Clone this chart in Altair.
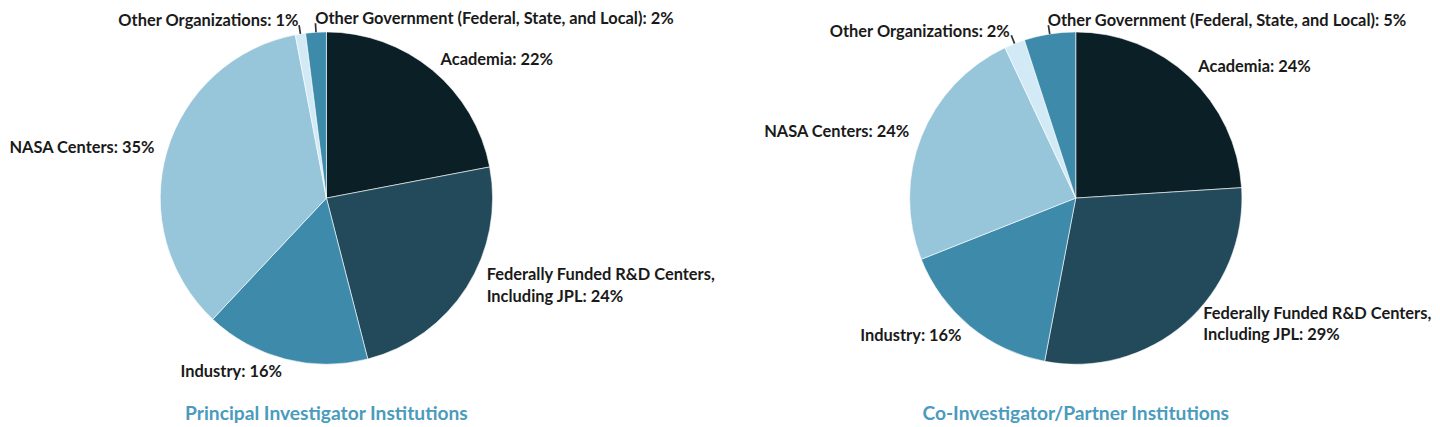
import altair as alt
import pandas as pd

categories = [
    "Academia",
    "Federally Funded R&D Centers, Including JPL",
    "Industry",
    "NASA Centers",
    "Other Organizations",
    "Other Government (Federal, State, and Local)",
]
label_names = [
    "Academia",
    "Federally Funded R&D Centers,\nIncluding JPL",
    "Industry",
    "NASA Centers",
    "Other Organizations",
    "Other Government (Federal, State, and Local)",
]
pi_values = [22, 24, 16, 35, 1, 2]
coi_values = [24, 29, 16, 24, 2, 5]
titles = ["Principal Investigator Institutions", "Co-Investigator/Partner Institutions"]
colors = ["#0b1f27", "#224a5b", "#3d8aab", "#97c6db", "#d2eaf5", "#3d8aab"]
leader_cats = ["Other Organizations", "Other Government (Federal, State, and Local)"]
right_aligned_cats = ["Industry", "NASA Centers", "Other Organizations"]

FONT = "Lato"
LINE_H = 22


def make_df(values):
    total = sum(values)
    rows = []
    cum = 0
    for c, n, v in zip(categories, label_names, values):
        start = cum / total * 100
        cum += v
        end = cum / total * 100
        mid = (start + end) / 2
        rows.append(dict(
            category=c, label=f"{n}: {v}%", value=v,
            start=start, end=end, mid=mid,
            t0=mid - 0.08, t1=mid + 0.08,
            side="right" if c in right_aligned_cats else "left",
            multi="\n" in n,
            leader=c in leader_cats,
        ))
    return pd.DataFrame(rows)


theta_scale = alt.Scale(domain=[0, 100], range=[0, 6.283185307179586])
color_scale = alt.Scale(domain=categories, range=colors)


def pie(values, title):
    df = make_df(values)
    base = alt.Chart(df)
    arcs = base.mark_arc(outerRadius=167, stroke="white", strokeWidth=0.6).encode(
        theta=alt.Theta("start:Q", scale=theta_scale, stack=False),
        theta2="end:Q",
        color=alt.Color("category:N", scale=color_scale, legend=None),
    )
    ticks = base.mark_arc(radius=176, radius2=167, color="#333333").encode(
        theta=alt.Theta("t0:Q", scale=theta_scale, stack=False),
        theta2="t1:Q",
    ).transform_filter("datum.leader")
    txt_kw = dict(radius=180, baseline="middle", font=FONT, fontSize=16.5,
                  fontWeight="bold", color="#1a1a1a", lineBreak="\n", lineHeight=LINE_H)
    enc = dict(theta=alt.Theta("mid:Q", scale=theta_scale, stack=False), text="label:N")
    left_txt = base.mark_text(align="left", **txt_kw).encode(**enc).transform_filter(
        "datum.side == 'left' && !datum.multi")
    left_multi = base.mark_text(align="left", dx=9, dy=-19, **txt_kw).encode(**enc).transform_filter(
        "datum.side == 'left' && datum.multi")
    right_txt = base.mark_text(align="right", **txt_kw).encode(**enc).transform_filter(
        "datum.side == 'right'")
    return alt.layer(arcs, ticks, left_txt, left_multi, right_txt).properties(
        width=604, height=376,
        title=alt.TitleParams(title, orient="bottom", font=FONT, fontSize=19.3,
                              fontWeight="bold", color="#4a9bbd", offset=20,
                              frame="group", anchor="middle"),
    )


chart = alt.hconcat(
    pie(pi_values, titles[0]), pie(coi_values, titles[1]),
    spacing=149,
).properties(
    padding={"top": 2, "left": 0, "right": 0, "bottom": 0}, bounds="flush"
).configure_view(stroke=None)

chart.save("out.html", embed_options={"renderer": "svg", "actions": False})
